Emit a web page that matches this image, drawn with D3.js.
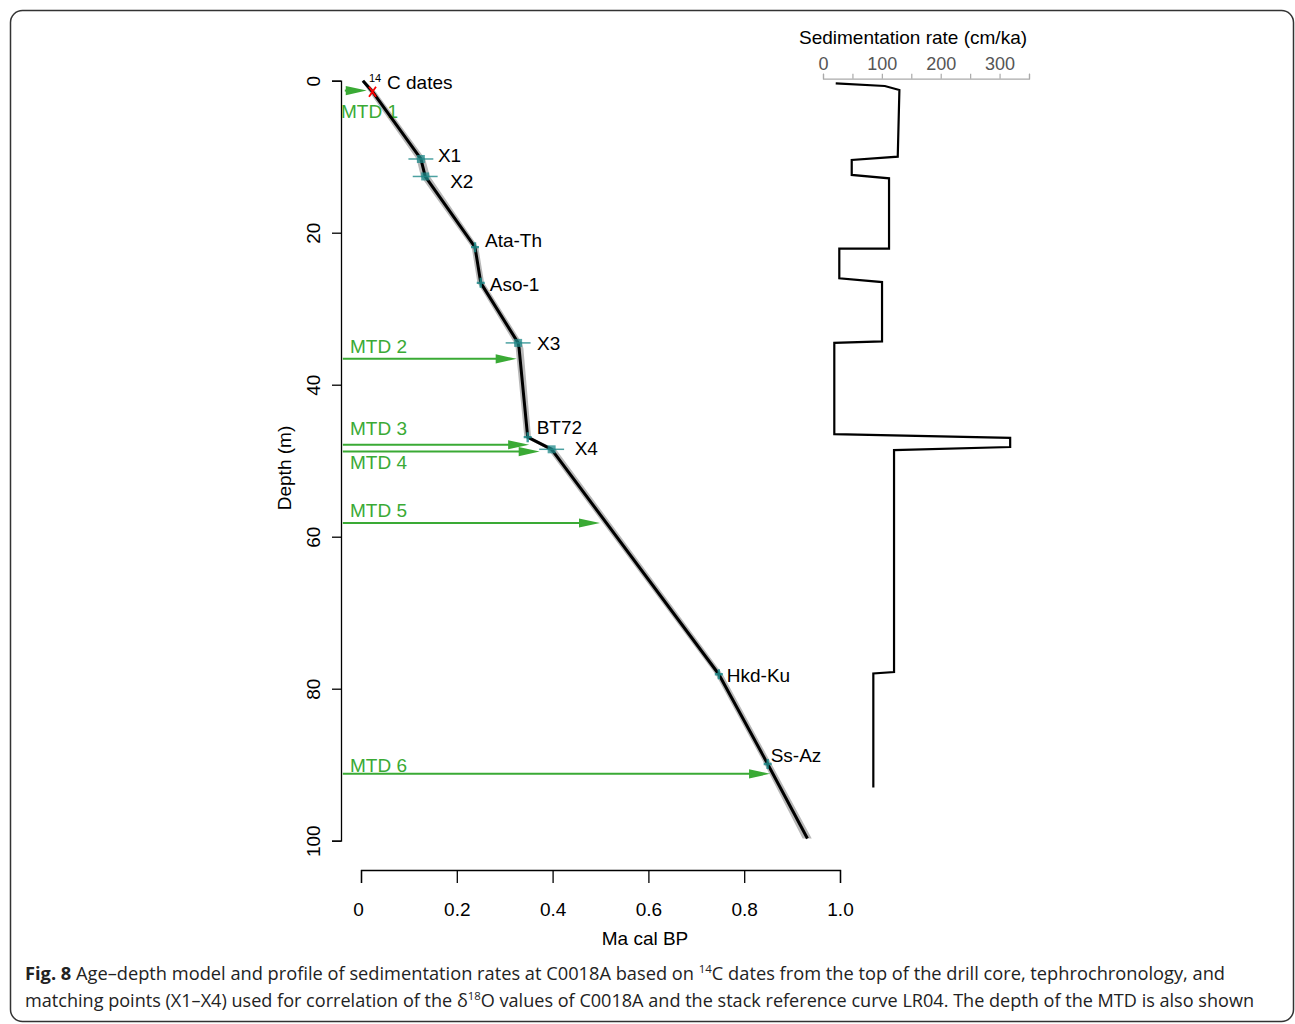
<!DOCTYPE html>
<html>
<head>
<meta charset="utf-8">
<script src="https://cdn.jsdelivr.net/npm/d3@7"></script>
<style>
  body { margin: 0; background: #fff; }
  svg text { font-family: "Liberation Sans", Arial, sans-serif; }
  svg .caption text { font-family: "Open Sans", sans-serif; }
</style>
</head>
<body>
<div id="chart"></div>
<script>
// age-depth model (depth in m, age in Ma cal BP)
const modelDepth = [0, 1.45, 10.3, 12.6, 21.9, 26.6, 34.5, 35.2, 46.9, 48.5, 78.1, 89.9, 99.7];
const modelAge   = [0.004, 0.024, 0.125, 0.134, 0.238, 0.250, 0.328, 0.330, 0.348, 0.398, 0.747, 0.849, 0.932];
const modelLo    = [0.001, 0.017, 0.116, 0.125, 0.231, 0.243, 0.320, 0.323, 0.341, 0.390, 0.740, 0.842, 0.922];
const modelHi    = [0.008, 0.031, 0.134, 0.144, 0.245, 0.257, 0.336, 0.339, 0.355, 0.407, 0.755, 0.857, 0.941];

// 14C date
const c14Depth = [1.45];
const c14Age = [0.024];

// matching points
const tieNames = ["X1", "X2", "X3", "X4"];
const tieDepth = [10.3, 12.6, 34.5, 48.5];
const tieAge   = [0.125, 0.134, 0.328, 0.398];
const tieErr   = [0.026, 0.026, 0.026, 0.026];

// tephras
const tephraNames = ["Ata-Th", "Aso-1", "BT72", "Hkd-Ku", "Ss-Az"];
const tephraDepth = [21.9, 26.6, 46.9, 78.1, 89.9];
const tephraAge   = [0.238, 0.250, 0.348, 0.747, 0.849];

// MTDs
const mtdNames = ["MTD 1", "MTD 2", "MTD 3", "MTD 4", "MTD 5", "MTD 6"];
const mtdDepth = [1.3, 36.6, 47.9, 48.8, 58.2, 91.2];
const mtdAge   = [0.012, 0.325, 0.351, 0.373, 0.499, 0.854];

// sedimentation rate profile (cm/ka vs depth m)
const sedRate  = [21.6, 105, 129.8, 127, 48.8, 48.8, 112.2, 112.2, 27.7, 27.7, 100.3, 100.3, 19.2, 19.2, 318, 318, 120.7, 120.7, 85.5, 85.5];
const sedDepth = [0.34, 0.70, 1.22, 10.0, 10.43, 12.4, 12.84, 22.1, 22.1, 26.0, 26.5, 34.3, 34.5, 46.5, 47.0, 48.2, 48.6, 77.8, 78.0, 93.0];

const ageTicks = [0, 0.2, 0.4, 0.6, 0.8, 1.0];
const depthTicks = [0, 20, 40, 60, 80, 100];
const rateTicks = [0, 50, 100, 150, 200, 250, 300, 350];

const W = 1295, H = 1024;
const green = "#3aaa35", teal = "#1f8a8a";

const svg = d3.select("#chart").append("svg")
  .attr("width", W).attr("height", H);

// frame
svg.append("rect")
  .attr("x", 10.5).attr("y", 10.5)
  .attr("width", 1283).attr("height", 1011)
  .attr("rx", 12)
  .attr("fill", "none").attr("stroke", "#333").attr("stroke-width", 1.5);

const x = d3.scaleLinear().domain([0, 1]).range([361, 840]);
const y = d3.scaleLinear().domain([0, 100]).range([80.7, 840.7]);
const xr = d3.scaleLinear().domain([0, 350]).range([823, 1029]);

// axes
const ageAxis = svg.append("g")
  .attr("transform", "translate(0,870)")
  .call(d3.axisBottom(x).tickValues(ageTicks).tickSizeOuter(0).tickSize(13).tickPadding(20)
    .tickFormat(d => d === 0 ? "0" : d3.format(".1f")(d)));
ageAxis.selectAll("text").attr("font-size", 19).attr("fill", "#000").attr("font-family", "Liberation Sans");
ageAxis.selectAll("text").filter(d => d === 0).attr("dx", -3);
ageAxis.selectAll("line,path").attr("stroke", "#000").attr("stroke-width", 1.3);

const depthAxis = svg.append("g")
  .attr("transform", "translate(341,0)")
  .call(d3.axisLeft(y).tickValues(depthTicks).tickSizeOuter(0).tickSize(9));
depthAxis.selectAll("text")
  .attr("transform", "rotate(-90)")
  .attr("x", 0).attr("y", -28).attr("dy", "0.36em")
  .attr("text-anchor", "middle")
  .attr("font-size", 19).attr("fill", "#000").attr("font-family", "Liberation Sans");
depthAxis.selectAll("line,path").attr("stroke", "#000").attr("stroke-width", 1.3);

svg.append("text")
  .attr("transform", "translate(291,468) rotate(-90)")
  .attr("text-anchor", "middle")
  .attr("font-size", 19)
  .text("Depth (m)");

svg.append("text")
  .attr("x", 645).attr("y", 945)
  .attr("text-anchor", "middle")
  .attr("font-size", 19)
  .text("Ma cal BP");

// uncertainty band
const model = modelDepth.map((d, i) => ({ depth: d, age: modelAge[i], lo: modelLo[i], hi: modelHi[i] }));
svg.append("path")
  .datum(model)
  .attr("d", d3.area().x0(d => x(d.lo)).x1(d => x(d.hi)).y(d => y(d.depth)))
  .attr("fill", "#b8b8b8");

// MTD arrows
const mtds = mtdNames.map((n, i) => ({ name: n, depth: mtdDepth[i], age: mtdAge[i] }));
const mtdLabel = { "MTD 1": [341, 27], "MTD 2": [350, -6], "MTD 3": [350, -10], "MTD 4": [350, 17], "MTD 5": [350, -6.5], "MTD 6": [350, -2] };
const startX = x(-0.038);
mtds.forEach(m => {
  const ty = y(m.depth), tx = x(m.age);
  const sx = m.name === "MTD 1" ? startX + 2 : startX;
  const headLen = 21, half = 4.6;
  if (tx - headLen > sx) {
    svg.append("line")
      .attr("x1", sx).attr("x2", tx - headLen + 2)
      .attr("y1", ty).attr("y2", ty)
      .attr("stroke", green).attr("stroke-width", 2);
  }
  svg.append("path")
    .attr("d", `M${tx},${ty}L${tx - headLen},${ty - half}L${tx - headLen},${ty + half}Z`)
    .attr("fill", green);
  svg.append("text")
    .attr("x", mtdLabel[m.name][0]).attr("y", ty + mtdLabel[m.name][1])
    .attr("font-size", 19).attr("fill", green)
    .text(m.name);
});

// age-depth line
svg.append("path")
  .datum(model)
  .attr("d", d3.line().x(d => x(d.age)).y(d => y(d.depth)))
  .attr("fill", "none").attr("stroke", "#000").attr("stroke-width", 3)
  .attr("stroke-linejoin", "round");

// matching points
const ties = tieNames.map((n, i) => ({ name: n, depth: tieDepth[i], age: tieAge[i], err: tieErr[i] }));
const tieOff = { X1: [17, -4], X2: [25, 5], X3: [19, 0], X4: [23, -1] };
ties.forEach(t => {
  const px = x(t.age), py = y(t.depth);
  svg.append("line")
    .attr("x1", x(t.age - t.err)).attr("x2", x(t.age + t.err))
    .attr("y1", py).attr("y2", py)
    .attr("stroke", teal).attr("stroke-opacity", 0.8).attr("stroke-width", 1.5);
  svg.append("rect")
    .attr("x", px - 4).attr("y", py - 4).attr("width", 8).attr("height", 8)
    .attr("fill", teal).attr("fill-opacity", 0.75);
  svg.append("text")
    .attr("x", px + tieOff[t.name][0]).attr("y", py + tieOff[t.name][1])
    .attr("dy", "0.36em").attr("font-size", 19)
    .text(t.name);
});

// tephras
const tephras = tephraNames.map((n, i) => ({ name: n, depth: tephraDepth[i], age: tephraAge[i] }));
const tephOff = { "Ata-Th": [10, -7], "Aso-1": [9, 1], "BT72": [9, -10], "Hkd-Ku": [8, 1], "Ss-Az": [3, -9] };
tephras.forEach(t => {
  const px = x(t.age), py = y(t.depth);
  svg.append("path")
    .attr("d", `M${px - 4},${py}H${px + 4}M${px},${py - 5}V${py + 5}`)
    .attr("stroke", teal).attr("stroke-opacity", 0.85).attr("stroke-width", 2.4);
  svg.append("text")
    .attr("x", px + tephOff[t.name][0]).attr("y", py + tephOff[t.name][1])
    .attr("dy", "0.36em").attr("font-size", 19)
    .text(t.name);
});

// 14C date
c14Depth.forEach((d, i) => {
  const px = x(c14Age[i]), py = y(d);
  svg.append("path")
    .attr("d", `M${px - 3.5},${py - 5}L${px + 3.5},${py + 5}M${px + 3.5},${py - 5}L${px - 3.5},${py + 5}`)
    .attr("stroke", "#ff0000").attr("stroke-width", 1.8);
});
svg.append("text").attr("x", 369).attr("y", 82).attr("font-size", 11).text("14");
svg.append("text").attr("x", 387).attr("y", 89).attr("font-size", 19).text("C dates");

// sedimentation rate panel
const rateAxis = svg.append("g")
  .attr("transform", "translate(0,78.7)")
  .call(d3.axisTop(xr).tickValues(rateTicks).tickSizeOuter(0).tickSize(5).tickPadding(4)
    .tickFormat(d => d % 100 === 0 ? d : ""));
rateAxis.selectAll("text").attr("font-size", 18).attr("fill", "#555").attr("font-family", "Liberation Sans");
rateAxis.selectAll("line,path").attr("stroke", "#aaa").attr("stroke-width", 1.2);

svg.append("text")
  .attr("x", 913).attr("y", 44)
  .attr("text-anchor", "middle")
  .attr("font-size", 19)
  .text("Sedimentation rate (cm/ka)");

const sed = sedRate.map((r, i) => ({ rate: r, depth: sedDepth[i] }));
svg.append("path")
  .datum(sed)
  .attr("d", d3.line().x(d => xr(d.rate)).y(d => y(d.depth)))
  .attr("fill", "none").attr("stroke", "#000").attr("stroke-width", 2.2);

// caption
const cap = svg.append("g").attr("class", "caption").attr("font-size", 17.5).attr("fill", "#222");
const l1 = cap.append("text").attr("x", 25).attr("y", 980);
l1.append("tspan").attr("font-weight", "bold").text("Fig. 8");
l1.append("tspan").text(" Age\u2013depth model and profile of sedimentation rates at C0018A based on ");
l1.append("tspan").attr("font-size", 11).attr("dy", -7).text("14");
l1.append("tspan").attr("dy", 7).text("C dates from the top of the drill core, tephrochronology, and");
const l2 = cap.append("text").attr("x", 25).attr("y", 1007);
l2.append("tspan").text("matching points (X1\u2013X4) used for correlation of the \u03b4");
l2.append("tspan").attr("font-size", 11).attr("dy", -7).text("18");
l2.append("tspan").attr("dy", 7).text("O values of C0018A and the stack reference curve LR04. The depth of the MTD is also shown");
// stretch caption lines to the reference line lengths
[[l1, 1200], [l2, 1229]].forEach(([t, w]) => {
  const len = t.node().getComputedTextLength();
  if (Math.abs(len - w) > 4) t.attr("textLength", w).attr("lengthAdjust", "spacingAndGlyphs");
});
</script>
</body>
</html>
